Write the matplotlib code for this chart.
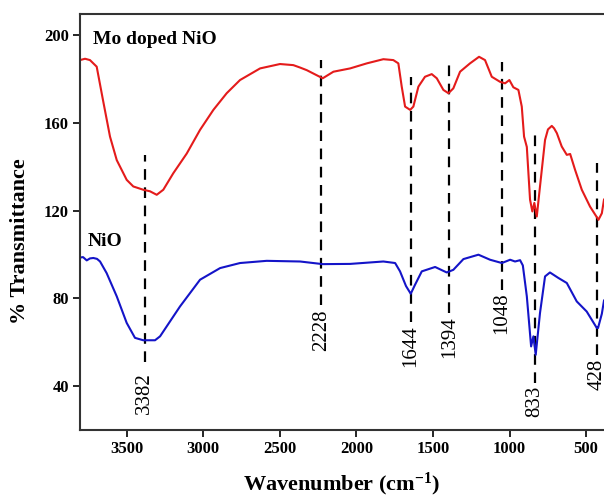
import matplotlib
matplotlib.use("Agg")
import matplotlib.pyplot as plt

# ---- data ----
mo_wn = [3805, 3772, 3740, 3696, 3655, 3609, 3565, 3500, 3457, 3392, 3348, 3304,
         3261, 3196, 3108, 3021, 2934, 2847, 2760, 2629, 2499, 2412, 2368, 2324,
         2220, 2150, 2041, 1932, 1824, 1759, 1726, 1704, 1682, 1649, 1628, 1595,
         1552, 1508, 1475, 1432, 1399, 1367, 1323, 1258, 1199, 1160, 1116, 1062,
         1029, 1001, 975, 942, 920, 905, 887, 866, 851, 838, 822, 801, 768, 749,
         724, 709, 691, 659, 626, 604, 572, 528, 474, 419, 397, 383]
mo_t = [188.6, 189.2, 188.6, 185.6, 170.4, 153.7, 143.0, 134.0, 131.0, 129.5, 128.8, 127.2,
        129.5, 137.0, 146.0, 156.8, 165.9, 173.5, 179.5, 184.8, 186.8, 186.3, 185.2, 184.0,
        180.3, 183.3, 184.8, 187.1, 189.0, 188.6, 187.1, 176.5, 167.4, 165.9, 167.4, 176.5,
        181.0, 182.2, 180.3, 175.0, 173.5, 175.7, 183.3, 187.1, 190.1, 188.6, 181.0, 178.7,
        178.0, 179.5, 176.2, 175.0, 167.4, 153.7, 149.0, 125.0, 119.6, 123.5, 117.3, 131.0, 152.2, 157.0,
        158.6, 157.5, 155.3, 149.2, 145.4, 145.8, 138.6, 129.5, 121.8, 115.8, 118.8, 125.0]

nio_wn = [3805, 3785, 3761, 3740, 3718, 3694, 3674, 3631, 3565, 3500, 3446, 3392,
          3315, 3282, 3239, 3152, 3021, 2890, 2760, 2586, 2368, 2220, 2041, 1824,
          1747, 1715, 1676, 1645, 1617, 1573, 1486, 1410, 1367, 1301, 1203, 1127,
          1050, 996, 964, 931, 913, 887, 859, 844, 829, 801, 768, 736, 681, 626,
          561, 496, 430, 422, 397, 383]
nio_t = [98.6, 98.8, 97.3, 98.2, 98.4, 98.0, 96.8, 91.5, 80.9, 68.8, 62.0, 60.9,
         60.9, 62.7, 67.2, 76.3, 88.5, 93.8, 96.1, 97.1, 96.8, 95.6, 95.7, 96.8,
         96.1, 92.3, 85.6, 82.1, 86.2, 92.3, 94.3, 91.8, 93.0, 97.9, 99.9, 97.6,
         96.1, 97.6, 96.8, 97.4, 95.0, 80.9, 58.1, 62.7, 54.3, 73.3, 90.0, 91.8, 89.3, 87.0,
         78.6, 74.0, 66.5, 66.5, 73.0, 79.0]

peaks = [3382, 2228, 1644, 1394, 1048, 833, 428]
peak_top = [145.4, 188.6, 181.0, 186.3, 187.8, 155.3, 141.6]
peak_bottom = [51.0, 77.0, 69.0, 73.5, 84.0, 41.6, 54.0]
label_y = [36.7, 65.4, 58.2, 62.2, 73.1, 33.2, 45.3]

plt.rcParams["font.family"] = ["Liberation Serif", "DejaVu Serif"]
plt.rcParams["mathtext.fontset"] = "custom"
plt.rcParams["mathtext.rm"] = "Liberation Serif:bold"
plt.rcParams["mathtext.bf"] = "Liberation Serif:bold"
plt.rcParams["mathtext.default"] = "rm"

fig = plt.figure(figsize=(6.04, 4.96), dpi=100)
ax = fig.add_axes([80 / 604, 66 / 496, 524 / 604, 416 / 496])

for wn, top, bot, ly in zip(peaks, peak_top, peak_bottom, label_y):
    ax.plot([wn, wn], [bot, top], color="black", lw=1.6, ls=(0, (4.8, 3.4)), zorder=1)
    ax.text(wn, ly, str(wn), rotation=90, ha="center", va="center", fontsize=15)

ax.plot(mo_wn, mo_t, color="#e41b1b", lw=1.5, zorder=2)
ax.plot(nio_wn, nio_t, color="#1414c8", lw=1.5, zorder=2)

ax.text(3720, 198.2, "Mo doped NiO", fontsize=14, fontweight="bold", va="center")
ax.text(3752, 106, "NiO", fontsize=14, fontweight="bold", va="center")

ax.set_xlim(3805, 383)
ax.set_ylim(20, 209.6)
ax.set_xticks([3500, 3000, 2500, 2000, 1500, 1000, 500])
ax.set_yticks([40, 80, 120, 160, 200])
ax.tick_params(direction="out", length=5, width=1.2, labelsize=12, pad=3)
for lab in ax.get_xticklabels() + ax.get_yticklabels():
    lab.set_fontweight("bold")
ax.spines["right"].set_visible(False)
for s in ("left", "bottom", "top"):
    ax.spines[s].set_linewidth(1.5)
    ax.spines[s].set_color("#333333")

ax.set_xlabel(r"Wavenumber (cm$^{-1}$)", fontsize=16, fontweight="bold", labelpad=10)
ax.set_ylabel("% Transmittance", fontsize=16, fontweight="bold")
ax.yaxis.set_label_coords(-0.095, 0.455)

fig.savefig("out.png", dpi=100)
